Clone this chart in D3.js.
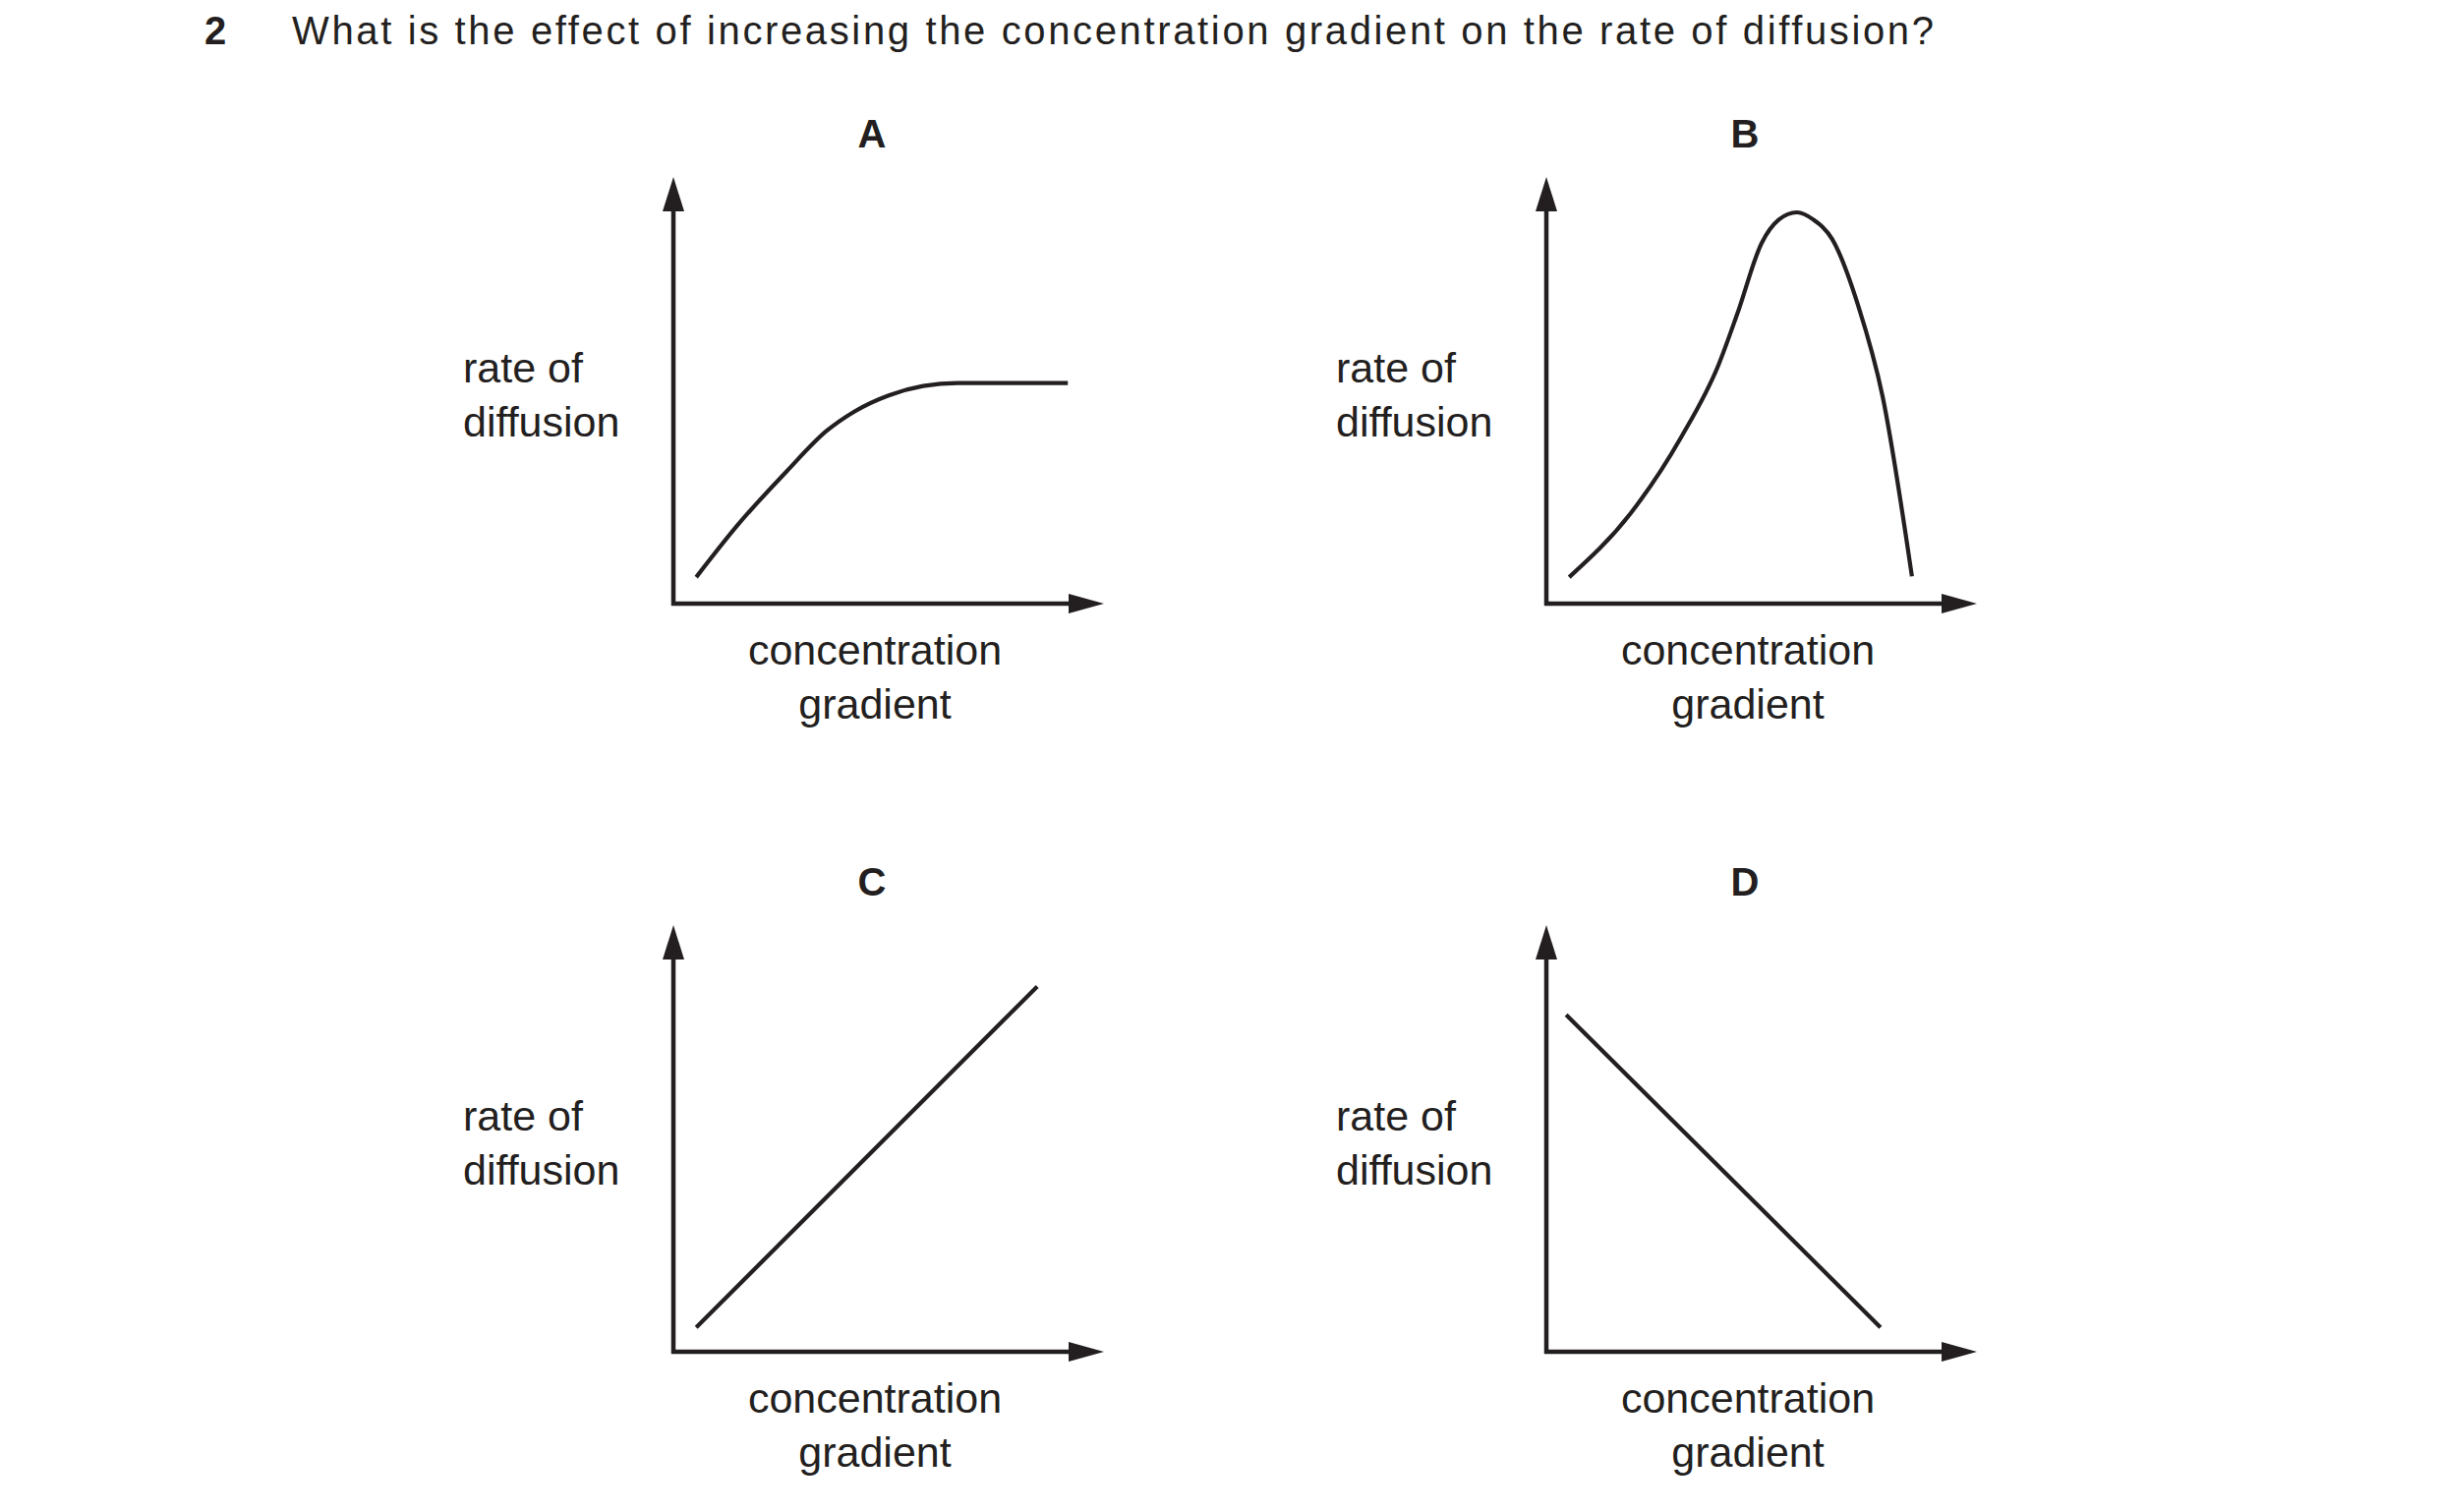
<!DOCTYPE html>
<html><head><meta charset="utf-8">
<script src="https://cdn.jsdelivr.net/npm/d3@7"></script>
<style>body{margin:0;background:#fff}</style></head>
<body><svg id="c" width="2480" height="1538"></svg>
<script>
const panelLabels = ["A","B","C","D"];
const xLabel = ["concentration","gradient"];
const yLabel = ["rate of","diffusion"];
const question = "What is the effect of increasing the concentration gradient on the rate of diffusion?";
const curveA = [[5.3,6.2],[15,18.5],[26.3,31],[35.6,40.5],[42,45],[50,48.8],[58,51],[66,51.7],[91.6,51.7]];
const curveB = [[5.3,6.2],[19.6,21.2],[31.3,39],[40,56],[44.3,67.8],[50,84.5],[54,90],[58.2,91.7],[62,90],[66.4,85.4],[72.4,69.9],[78.1,48.5],[84.9,6.4]];
const curveC = [[5.3,5.7],[84.5,85.6]];
const curveD = [[4.6,79],[77.6,5.7]];
const series = [curveA, curveB, curveC, curveD];

const svg = d3.select("#c");
const ink = "#231f20";
const font = "'Liberation Sans', Arial, sans-serif";
svg.append("text").attr("x",208).attr("y",45).attr("font-family",font).attr("font-weight","bold")
  .attr("font-size",40).attr("fill",ink).text("2");
svg.append("text").attr("x",297).attr("y",45).attr("font-family",font)
  .attr("font-size",40).attr("fill",ink).attr("textLength",1670).text(question);

const origins = [[685,614],[1573,614],[685,1375],[1573,1375]];
series.forEach((data,i)=>{
  const [ox,oy] = origins[i];
  const x = d3.scaleLinear().domain([0,100]).range([ox, ox+438]);
  const y = d3.scaleLinear().domain([0,100]).range([oy, oy-434]);
  const g = svg.append("g");
  g.append("line").attr("x1",x(0)).attr("y1",y(0)+2).attr("x2",x(0)).attr("y2",y(92)).attr("stroke",ink).attr("stroke-width",4.5);
  g.append("line").attr("x1",x(0)-2).attr("y1",y(0)).attr("x2",x(92)).attr("y2",y(0)).attr("stroke",ink).attr("stroke-width",4.5);
  g.append("path").attr("d",`M${x(0)},${y(100)} L${x(0)-11},${y(100)+35} L${x(0)+11},${y(100)+35} Z`).attr("fill",ink);
  g.append("path").attr("d",`M${x(100)},${y(0)} L${x(100)-36},${y(0)-10} L${x(100)-36},${y(0)+10} Z`).attr("fill",ink);
  const line = d3.line().x(d=>x(d[0])).y(d=>y(d[1])).curve(d3.curveMonotoneX);
  g.append("path").datum(data).attr("d",line).attr("fill","none").attr("stroke",ink).attr("stroke-width",4.2);
  g.append("text").attr("x",ox+202).attr("y",oy-464).attr("text-anchor","middle").attr("font-family",font)
    .attr("font-weight","bold").attr("font-size",40).attr("fill",ink).text(panelLabels[i]);
  yLabel.forEach((t,k)=>g.append("text").attr("x",ox-214).attr("y",oy-225+k*55).attr("font-family",font)
    .attr("font-size",43).attr("fill",ink).text(t));
  xLabel.forEach((t,k)=>g.append("text").attr("x",ox+205).attr("y",oy+62+k*55).attr("text-anchor","middle").attr("font-family",font)
    .attr("font-size",43).attr("fill",ink).text(t));
});
</script></body></html>
